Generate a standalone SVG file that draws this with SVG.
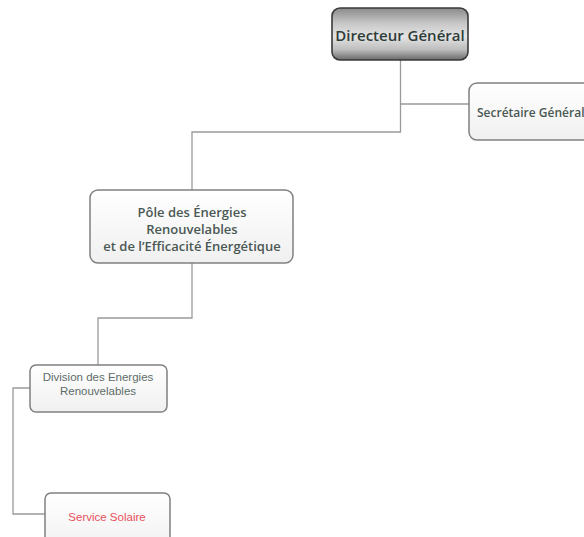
<svg xmlns="http://www.w3.org/2000/svg" width="584" height="537" viewBox="0 0 584 537">
<defs>
<linearGradient id="gDG" x1="0" y1="0" x2="0" y2="1">
<stop offset="0" stop-color="#8a8a8a"/>
<stop offset="0.3" stop-color="#c8c8c8"/>
<stop offset="0.55" stop-color="#e4e4e4"/>
<stop offset="0.8" stop-color="#bdbdbd"/>
<stop offset="1" stop-color="#6a6a6a"/>
</linearGradient>
<linearGradient id="gBox" x1="0" y1="0" x2="0" y2="1">
<stop offset="0" stop-color="#ffffff"/>
<stop offset="1" stop-color="#f0f0f0"/>
</linearGradient>
</defs>
<style>
.box{fill:url(#gBox);stroke:#808080;stroke-width:1.5}
.c{fill:none;stroke:#9a9a9a;stroke-width:1.3}
.t1{font-family:"Open Sans","Noto Sans",sans-serif;font-size:13px;font-weight:600;fill:#4a5854;text-anchor:middle}
.t2{font-family:"Liberation Sans",Arial,sans-serif;font-size:11.5px;fill:#5e6c68;text-anchor:middle}
</style>
<rect width="584" height="537" fill="#ffffff"/>
<g id="connectors">
<polyline class="c" points="400.5,60 400.5,132 192,132 192,190"/>
<polyline class="c" points="400.5,104 469,104"/>
<polyline class="c" points="192,263 192,318 98,318 98,365"/>
<polyline class="c" points="30,388 13,388 13,514 45,514"/>
</g>
<g id="directeur">
<rect x="332" y="8" width="136" height="52" rx="8" fill="url(#gDG)" stroke="#3a3a3a" stroke-width="1.6"/>
<text x="400" y="41" font-family="'Open Sans','Noto Sans',sans-serif" font-size="15" font-weight="600" fill="#2e3c38" text-anchor="middle">Directeur Général</text>
</g>
<g id="secretaire">
<rect class="box" x="469" y="83" width="130" height="57" rx="8"/>
<text x="477" y="117" font-family="'Open Sans','Noto Sans',sans-serif" font-size="12" font-weight="600" fill="#4a5854">Secrétaire Général</text>
</g>
<g id="pole">
<rect class="box" x="90" y="190" width="203" height="73" rx="8"/>
<text class="t1" x="192" y="217">Pôle des Énergies</text>
<text class="t1" x="192" y="234">Renouvelables</text>
<text class="t1" x="192" y="251">et de l’Efficacité Énergétique</text>
</g>
<g id="division">
<rect class="box" x="30" y="365" width="137" height="47" rx="6"/>
<text class="t2" x="98" y="381">Division des Energies</text>
<text class="t2" x="98" y="395">Renouvelables</text>
</g>
<g id="service">
<rect class="box" x="45" y="493" width="125" height="60" rx="6"/>
<text class="t2" x="107" y="521" style="fill:#e8505a">Service Solaire</text>
</g>
</svg>
